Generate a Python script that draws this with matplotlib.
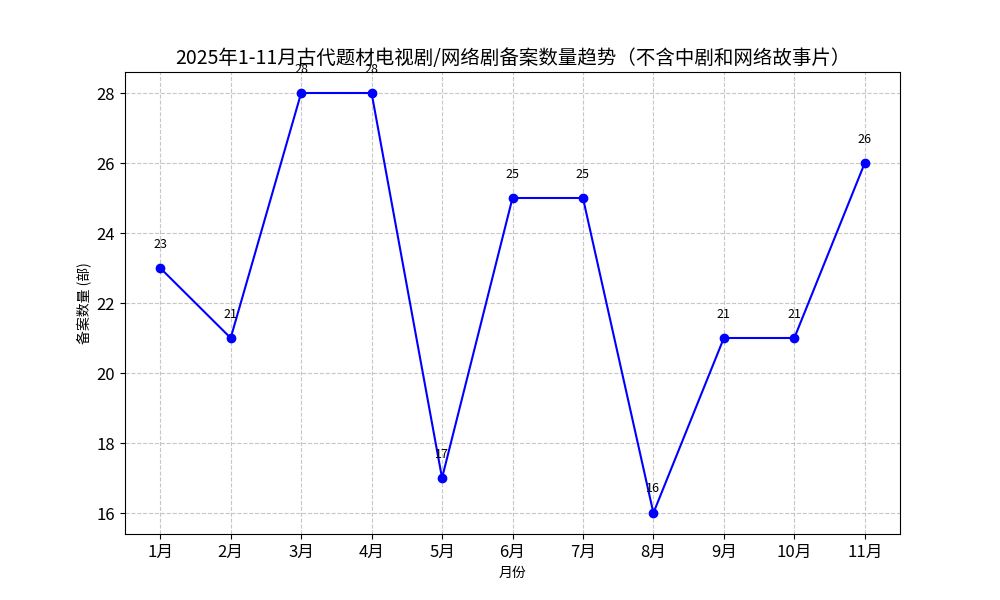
import matplotlib.pyplot as plt

plt.rcParams['font.family'] = ['Noto Sans CJK SC', 'DejaVu Sans']
plt.rcParams['axes.unicode_minus'] = False

months = ['1月', '2月', '3月', '4月', '5月', '6月', '7月', '8月', '9月', '10月', '11月']
counts = [23, 21, 28, 28, 17, 25, 25, 16, 21, 21, 26]

plt.figure(figsize=(10, 6))
plt.plot(months, counts, marker='o', color='blue', linestyle='-')

# 数据标签
for i, v in enumerate(counts):
    plt.text(i, v + 0.5, str(v), ha='center', va='bottom', fontsize=9)

plt.title('2025年1-11月古代题材电视剧/网络剧备案数量趋势（不含中剧和网络故事片）', fontsize=14)
plt.xlabel('月份')
plt.ylabel('备案数量 (部)')
plt.xticks(fontsize=12)
plt.yticks(fontsize=12)
plt.grid(True, linestyle='--', alpha=0.7)

plt.savefig('out.png')
